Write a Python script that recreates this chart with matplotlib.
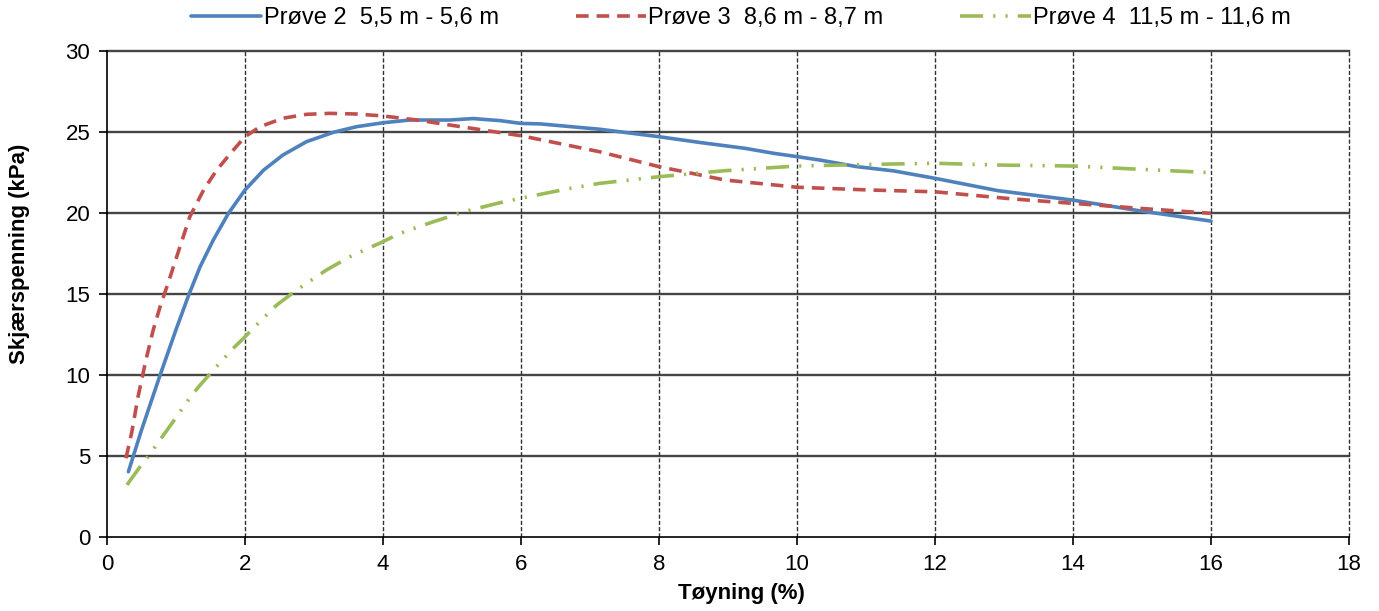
import matplotlib
matplotlib.use("Agg")
import matplotlib.pyplot as plt

plt.rcParams['font.family'] = ['Liberation Sans', 'DejaVu Sans']

# Prøve 2  5,5 m - 5,6 m
x2 = [0.31, 0.50, 0.77, 1.00, 1.19, 1.35, 1.54, 1.76, 2.00, 2.27, 2.55, 2.89, 3.28, 3.62, 4.00,
      4.39, 4.97, 5.31, 5.70, 6.00, 6.28, 7.14, 8.00, 8.60, 9.25, 9.67, 10.00, 10.33, 10.87,
      11.40, 12.00, 12.91, 13.99, 14.96, 16.00]
y2 = [4.03, 6.60, 10.0, 12.8, 15.0, 16.69, 18.33, 19.98, 21.42, 22.65, 23.58, 24.4, 24.98, 25.33, 25.57,
      25.74, 25.74, 25.83, 25.7, 25.53, 25.5, 25.17, 24.71, 24.35, 23.99, 23.68, 23.48, 23.27, 22.86,
      22.6, 22.14, 21.38, 20.8, 20.14, 19.5]

# Prøve 3  8,6 m - 8,7 m
x3 = [0.275, 0.36, 0.45, 0.57, 0.67, 0.77, 0.90, 1.01, 1.20, 1.40, 1.59, 1.81, 2.00, 2.22, 2.55,
      2.89, 3.23, 3.62, 4.00, 4.49, 4.97, 5.45, 6.00, 6.66, 7.14, 8.00, 8.95, 10.00, 11.05, 12.00,
      13.15, 13.99, 14.96, 16.00]
y3 = [4.86, 6.5, 8.66, 11.03, 12.78, 14.22, 15.86, 17.3, 19.77, 21.42, 22.65, 23.78, 24.71, 25.33, 25.85,
      26.09, 26.15, 26.11, 25.99, 25.74, 25.43, 25.12, 24.77, 24.2, 23.78, 22.86, 22.04, 21.59, 21.42, 21.31,
      20.86, 20.6, 20.29, 19.98]

# Prøve 4  11,5 m - 11,6 m
x4 = [0.29, 0.34, 0.48, 0.60, 0.82, 1.01, 1.23, 1.35, 1.57, 1.83, 2.00, 2.19, 2.46, 2.75, 3.18,
      3.52, 4.00, 4.25, 4.73, 5.21, 5.70, 6.00, 6.66, 7.14, 8.00, 8.95, 10.00, 11.05, 12.00, 12.91,
      13.99, 14.96, 16.00]
y4 = [3.21, 3.52, 4.34, 5.0, 6.3, 7.43, 8.77, 9.38, 10.44, 11.65, 12.36, 13.19, 14.32, 15.25, 16.48,
      17.3, 18.23, 18.75, 19.46, 20.12, 20.64, 20.91, 21.48, 21.83, 22.24, 22.61, 22.9, 23.0, 23.07, 22.96,
      22.9, 22.7, 22.49]

labels = ["Prøve 2  5,5 m - 5,6 m", "Prøve 3  8,6 m - 8,7 m", "Prøve 4  11,5 m - 11,6 m"]
xticks = [0, 2, 4, 6, 8, 10, 12, 14, 16, 18]
yticks = [0, 5, 10, 15, 20, 25, 30]

W, H = 1379, 611
fig = plt.figure(figsize=(W/100, H/100), dpi=100)
ax = fig.add_axes([107/W, 1-537/H, (1349-107)/W, (537-51)/H])

lw = 2.6
ax.plot(x2, y2, color='#4F81BD', lw=lw, ls='-', label=labels[0],
        solid_joinstyle='round', solid_capstyle='round')
ax.plot(x3, y3, color='#C0504D', lw=lw, ls=(0, (3.5, 2.2)), label=labels[1],
        dash_joinstyle='round')
ax.plot(x4, y4, color='#9BBB59', lw=lw, ls=(0, (6.4, 2.8, 0.6, 2.8, 0.6, 2.8)), label=labels[2],
        dash_joinstyle='round')

ax.set_xlim(0, 18)
ax.set_ylim(0, 30)
ax.set_xticks(xticks)
ax.set_yticks(yticks)

for yv in yticks[1:]:
    ax.axhline(yv, color='#454545', lw=1.7, zorder=0.5, clip_on=False)
for xv in xticks[1:]:
    ax.axvline(xv, color='#303030', lw=1.0, ls=(0, (3, 1.5)), zorder=0.5, clip_on=False)

for s in ['top', 'right']:
    ax.spines[s].set_visible(False)
for s in ['left', 'bottom']:
    ax.spines[s].set_color('black')
    ax.spines[s].set_linewidth(1.2)

ax.tick_params(axis='both', direction='out', length=6, width=1.2, labelsize=16, colors='black', pad=6)

ax.set_xlabel("Tøyning (%)", fontsize=16, fontweight='bold')
ax.set_ylabel("Skjærspenning (kPa)", fontsize=16, fontweight='bold')
ax.xaxis.set_label_coords(0.511, (537-594)/486, transform=ax.transAxes)
ax.yaxis.set_label_coords((20-107)/1242, 0.582, transform=ax.transAxes)
ax.xaxis.label.set_va('center')
ax.yaxis.label.set_va('center')

ax.legend(loc='center', bbox_to_anchor=(741/W, 1-18/H), bbox_transform=fig.transFigure,
          ncol=3, frameon=False, fontsize=17, handlelength=2.97, handletextpad=0.1,
          columnspacing=3.26)

fig.savefig("out.png", dpi=100)
